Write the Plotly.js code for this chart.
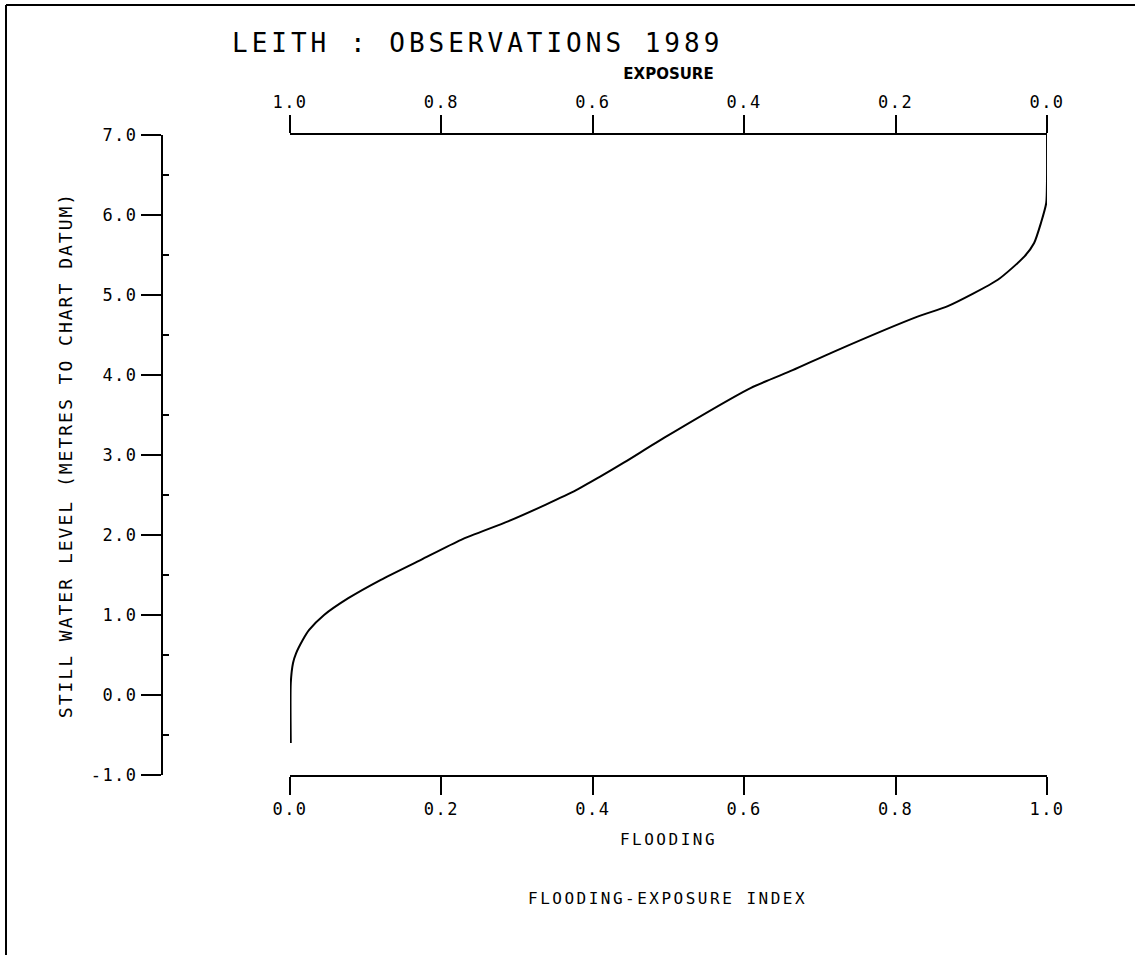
<!DOCTYPE html>
<html>
<head>
<meta charset="utf-8">
<script src="https://cdn.plot.ly/plotly-3.0.1.min.js"></script>
<style>
  html, body { margin: 0; padding: 0; background: #fff; }
  #chart { width: 1135px; height: 955px; }
  .xtick text, .ytick text, .x2tick text { letter-spacing: 1.5px; }
  .gtitle { letter-spacing: 4px; }
  .ytitle { letter-spacing: 2px; }
  .xtitle { letter-spacing: 2.5px; }
  .annotation-text { letter-spacing: 2.5px; }
</style>
</head>
<body>
<div id="chart"></div>
<script>
// Flooding index (bottom axis) vs still water level (m to chart datum)
const flooding = [0.001, 0.001, 0.004, 0.008, 0.017, 0.025, 0.045, 0.077, 0.120, 0.173,
                  0.226, 0.288, 0.338, 0.378, 0.408, 0.442, 0.495, 0.609, 0.664, 0.718,
                  0.829, 0.869, 0.935, 0.970, 0.983, 0.992, 0.999, 1.000, 1.000];
const level =    [-0.60, 0.15, 0.40, 0.52, 0.69, 0.81, 1.00, 1.21, 1.44, 1.69,
                  1.94, 2.17, 2.38, 2.56, 2.72, 2.91, 3.22, 3.84, 4.06, 4.29,
                  4.73, 4.86, 5.19, 5.48, 5.65, 5.90, 6.15, 6.44, 7.00];

const floodTicks = [0.0, 0.2, 0.4, 0.6, 0.8, 1.0];
const exposureTicks = [1.0, 0.8, 0.6, 0.4, 0.2, 0.0];
const levelTicks = [-1.0, 0.0, 1.0, 2.0, 3.0, 4.0, 5.0, 6.0, 7.0];
const levelMinor = [-0.5, 0.5, 1.5, 2.5, 3.5, 4.5, 5.5, 6.5];

const titleText = 'LEITH : OBSERVATIONS 1989';
const yTitle = 'STILL WATER LEVEL (METRES TO CHART DATUM)';
const xTitle = 'FLOODING';
const x2Title = 'EXPOSURE';
const indexLabel = 'FLOODING-EXPOSURE INDEX';

const mono = 'DejaVu Sans Mono, monospace';

const trace = {
  x: flooding, y: level, type: 'scatter', mode: 'lines',
  line: {color: '#000', width: 2, shape: 'spline', smoothing: 0.6},
  xaxis: 'x', yaxis: 'y', hoverinfo: 'skip'
};

// Invisible trace on the top axis so it is drawn
const trace2 = {
  x: exposureTicks, y: exposureTicks.map(() => null), type: 'scatter', mode: 'lines',
  xaxis: 'x2', yaxis: 'y', showlegend: false, hoverinfo: 'skip'
};

const L = 162, R = 1135 - 1047, T = 135, B = 955 - 775;
const plotW = 1135 - L - R, plotH = 955 - T - B;
const xStart = (290 - L) / plotW;
const px = v => (v - L) / plotW;
const py = v => (955 - B - v) / plotH;

const layout = {
  width: 1135, height: 955,
  margin: {l: L, r: R, t: T, b: B, pad: 0},
  paper_bgcolor: '#fff', plot_bgcolor: '#fff',
  showlegend: false,
  title: {
    text: titleText,
    font: {family: mono, size: 26, color: '#000'},
    x: 232 / 1135, xanchor: 'left', xref: 'container',
    y: 1 - 43 / 955, yanchor: 'middle', yref: 'container'
  },
  xaxis: {
    domain: [xStart, 1], range: [0, 1], anchor: 'y', side: 'bottom',
    tickmode: 'array', tickvals: floodTicks, ticktext: floodTicks.map(v => v.toFixed(1)),
    ticks: 'outside', ticklen: 18, tickwidth: 2, tickcolor: '#000',
    showline: true, linecolor: '#000', linewidth: 2,
    showgrid: false, zeroline: false,
    tickfont: {family: mono, size: 17, color: '#000'},
    title: {text: xTitle, font: {family: mono, size: 16, color: '#000'}, standoff: 15},
    fixedrange: true
  },
  xaxis2: {
    domain: [xStart, 1], range: [1, 0], overlaying: 'x', anchor: 'y', side: 'top',
    tickmode: 'array', tickvals: exposureTicks, ticktext: exposureTicks.map(v => v.toFixed(1)),
    ticks: 'outside', ticklen: 18, tickwidth: 2, tickcolor: '#000',
    showline: true, linecolor: '#000', linewidth: 2,
    showgrid: false, zeroline: false,
    tickfont: {family: mono, size: 17, color: '#000'},
    title: {text: x2Title, font: {family: 'DejaVu Sans, sans-serif', size: 15, color: '#000', weight: 'bold'}, standoff: 9},
    fixedrange: true
  },
  yaxis: {
    range: [-1, 7], anchor: 'free', position: 0,
    tickmode: 'array', tickvals: levelTicks, ticktext: levelTicks.map(v => v.toFixed(1)),
    ticks: 'outside', ticklen: 20, tickwidth: 2, tickcolor: '#000',
    minor: {tickmode: 'array', tickvals: levelMinor, ticks: 'inside', ticklen: 6, tickwidth: 2, tickcolor: '#000', showgrid: false},
    showline: true, linecolor: '#000', linewidth: 2,
    showgrid: false, zeroline: false,
    tickfont: {family: mono, size: 17, color: '#000'},
    title: {text: yTitle, font: {family: mono, size: 18, color: '#000'}, standoff: 12},
    fixedrange: true
  },
  annotations: [{
    text: indexLabel, xref: 'paper', yref: 'paper',
    x: px(667), y: py(898), xanchor: 'center', yanchor: 'middle', showarrow: false,
    font: {family: mono, size: 16, color: '#000'}
  }],
  shapes: [
    {type: 'line', xref: 'paper', yref: 'paper', x0: px(6), x1: px(1135), y0: py(5), y1: py(5), line: {color: '#000', width: 2}},
    {type: 'line', xref: 'paper', yref: 'paper', x0: px(6), x1: px(6), y0: py(5), y1: py(955), line: {color: '#000', width: 2}}
  ]
};

Plotly.newPlot('chart', [trace, trace2], layout, {displayModeBar: false, staticPlot: true});
</script>
</body>
</html>
